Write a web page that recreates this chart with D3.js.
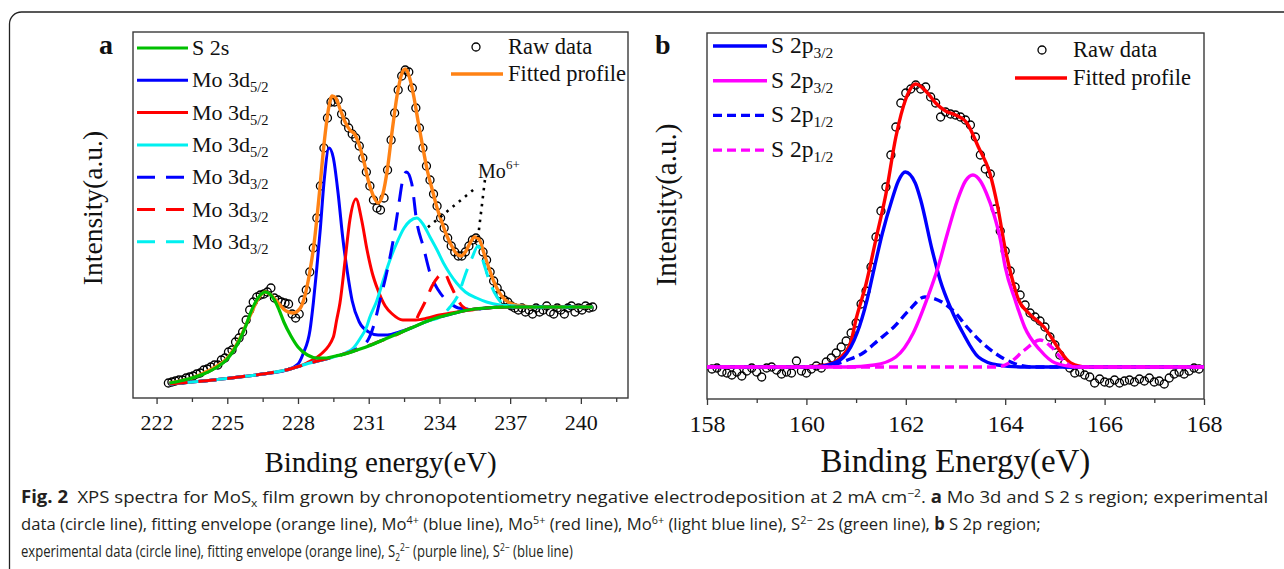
<!DOCTYPE html>
<html>
<head>
<meta charset="utf-8">
<script src="https://cdn.jsdelivr.net/npm/d3@7"></script>
<style>
  body { margin: 0; background: #fff; }
  svg text { font-family: "Liberation Serif", "Times New Roman", serif; fill: #111; }
  .caption text { font-family: "Open Sans", "Noto Sans", sans-serif; fill: #231f20; }
</style>
</head>
<body>
<svg id="fig" width="1284" height="569"></svg>
<script>
// ---------- panel a : Mo 3d + S 2s (energy eV, intensity a.u.) ----------
const rawA = [[222.50,15],[222.65,16],[222.80,17],[222.95,18],[223.10,18],[223.25,20],[223.40,21],[223.55,22],[223.70,24],[223.85,25],[224.00,28],[224.15,29],[224.30,31],[224.45,33],[224.60,33],[224.75,38],[224.90,40],[225.05,46],[225.20,48],[225.35,56],[225.50,60],[225.65,66],[225.80,78],[225.95,88],[226.10,96],[226.25,101],[226.40,103],[226.55,104],[226.70,106],[226.85,110],[227.00,100],[227.15,98],[227.30,96],[227.45,95],[227.60,94],[227.75,84],[227.90,80],[228.05,84],[228.20,98],[228.35,108],[228.50,126],[228.65,150],[228.80,180],[228.95,212],[229.10,250],[229.25,280],[229.40,296],[229.55,296],[229.70,298],[229.85,284],[230.00,276],[230.15,270],[230.30,264],[230.45,260],[230.60,252],[230.75,240],[230.90,226],[231.05,212],[231.20,198],[231.35,190],[231.50,188],[231.65,200],[231.80,228],[231.95,258],[232.10,285],[232.25,308],[232.40,322],[232.55,328],[232.70,326],[232.85,310],[233.00,290],[233.15,270],[233.30,250],[233.45,232],[233.60,218],[233.75,204],[233.90,192],[234.05,180],[234.20,170],[234.35,160],[234.50,152],[234.65,146],[234.80,142],[234.95,142],[235.10,146],[235.25,152],[235.40,158],[235.55,160],[235.70,156],[235.85,146],[236.00,138],[236.15,126],[236.30,117],[236.45,110],[236.60,104],[236.75,98],[236.90,96],[237.05,92],[237.20,90],[237.35,88],[237.50,90],[237.65,86],[237.80,88],[237.95,84],[238.10,90],[238.25,86],[238.40,88],[238.55,92],[238.70,86],[238.85,84],[239.00,90],[239.15,88],[239.30,84],[239.45,90],[239.60,92],[239.75,86],[239.90,90],[240.05,88],[240.20,92],[240.35,90],[240.50,91]];

const fitA = [[222.55,15],[223,17],[223.5,20],[224,25],[224.5,31],[225,40],[225.5,58],[226,84],[226.3,99],[226.6,106],[226.9,102],[227.2,94],[227.5,87],[227.8,85],[228.1,90],[228.3,103],[228.5,126],[228.7,158],[228.9,203],[229.1,253],[229.3,290],[229.45,302],[229.6,300],[229.8,288],[230.0,276],[230.2,268],[230.4,264],[230.6,253],[230.8,236],[231.0,216],[231.2,202],[231.4,195],[231.6,204],[231.8,230],[232.0,268],[232.2,302],[232.4,324],[232.55,329],[232.7,323],[232.9,303],[233.1,276],[233.3,250],[233.5,226],[233.7,208],[233.9,190],[234.1,176],[234.3,163],[234.5,153],[234.7,145],[234.9,142],[235.1,146],[235.3,155],[235.5,161],[235.7,158],[235.9,144],[236.1,130],[236.3,117],[236.5,107],[236.8,98],[237.1,94],[237.5,92],[238,91],[240.5,91]];

const s2sA = [[222.55,15],[223,17],[223.5,20],[224,24],[224.5,30],[225,39],[225.5,57],[225.8,73],[226.0,86],[226.2,96],[226.4,103],[226.6,106],[226.8,104],[227.0,98],[227.2,88],[227.4,76],[227.7,62],[228.0,51],[228.4,43],[228.8,40],[229.2,40],[229.6,42],[230,44],[230.5,48],[231,52],[231.5,57],[232,62],[232.5,67],[233,72],[233.5,77],[234,81],[234.5,84],[235,87],[235.5,89],[236,90],[237,91],[238,91],[240.5,91]];

const mo4A = [[222.55,14],[224,17],[225.5,21],[226.5,24],[227.5,28],[228.0,34],[228.23,45],[228.51,68],[228.65,95],[228.79,128],[228.95,170],[229.1,215],[229.32,250],[229.5,240],[229.7,205],[229.9,160],[230.1,125],[230.3,97],[230.6,76],[231.0,66],[231.4,63],[231.8,63],[232.3,66],[232.8,70],[233.5,77],[234,81],[234.5,84],[235,87],[235.5,89],[236,90],[237,91],[238,91],[240.5,91]];

const mo5A = [[222.55,14],[224,17],[225.5,21],[226.5,24],[227.5,28],[228.37,35],[228.93,43],[229.5,61],[229.64,78],[229.78,95],[230.0,138],[230.2,178],[230.46,199],[230.7,178],[230.93,148],[231.15,125],[231.39,108],[231.7,92],[232.0,84],[232.45,78],[233.0,78],[233.5,80],[234,83],[234.5,85],[235,87],[235.5,89],[236,90],[237,91],[238,91],[240.5,91]];

const mo6A = [[222.55,14],[224,17],[225.5,21],[226.5,24],[227.5,28],[228.5,35],[229.5,41],[230.0,45],[230.35,50],[230.65,60],[230.91,71],[231.05,81],[231.34,97],[231.62,118],[231.9,138],[232.19,155],[232.5,170],[232.75,177],[233.04,180],[233.3,174],[233.6,161],[233.9,148],[234.17,135],[234.45,124],[234.73,115],[235.1,106],[235.58,100],[236.0,96],[236.57,93],[237.2,92],[237.98,91],[240.5,91]];

const mo4bA = [[222.55,14],[224,17],[225.5,21],[226.5,24],[227.5,28],[228.5,35],[229.5,41],[230.3,47],[230.7,52],[230.97,58],[231.22,73],[231.48,98],[231.76,125],[232.04,158],[232.26,191],[232.47,221],[232.6,226],[232.82,215],[233.04,176],[233.32,151],[233.6,125],[233.95,108],[234.2,100],[234.45,95],[234.8,90],[235.2,89],[235.6,89],[236,90],[237,91],[238,91],[240.5,91]];

const mo5bA = [[222.55,14],[224,17],[225.5,21],[226.5,24],[227.5,28],[228.5,35],[229.5,41],[230.5,48],[231.5,57],[232.5,67],[232.9,73],[233.13,84],[233.39,96],[233.69,112],[233.94,121],[234.2,125],[234.45,114],[234.7,102],[234.96,92],[235.3,88],[235.6,89],[236,90],[237,91],[238,91],[240.5,91]];

const mo6bA = [[222.55,14],[224,17],[225.5,21],[226.5,24],[227.5,28],[228.5,35],[229.5,41],[230.5,48],[231.5,57],[232.5,67],[233.5,77],[234.03,81],[234.45,91],[234.75,101],[235.17,128],[235.38,140],[235.64,152],[235.89,134],[236.15,115],[236.44,101],[236.78,93],[237.2,91],[238,91],[240.5,91]];

const ticksA = [222, 225, 228, 231, 234, 237, 240];
const minorA = [223.5, 226.5, 229.5, 232.5, 235.5, 238.5, 241.5];
const legendA = [
  {key: "s2s", label: "S 2s", sub: ""},
  {key: "mo4", label: "Mo 3d", sub: "5/2"},
  {key: "mo5", label: "Mo 3d", sub: "5/2"},
  {key: "mo6", label: "Mo 3d", sub: "5/2"},
  {key: "mo4b", label: "Mo 3d", sub: "3/2"},
  {key: "mo5b", label: "Mo 3d", sub: "3/2"},
  {key: "mo6b", label: "Mo 3d", sub: "3/2"}
];
// Mo6+ pointer: label anchor and two dotted leaders [from, to]
const mo6Label = [235.64, 220];
const mo6Leaders = [[[235.43, 208], [233.47, 170]], [[235.93, 218], [235.64, 161]]];

// ---------- panel b : S 2p ----------
const rawB = [[158.1,30],[158.2,31],[158.3,27],[158.4,26],[158.5,24],[158.6,27],[158.7,23],[158.8,28],[158.9,31],[159.0,27],[159.1,22],[159.2,31],[159.3,32],[159.4,29],[159.5,25],[159.6,27],[159.7,26],[159.8,38],[159.9,28],[160.0,26],[160.1,30],[160.2,33],[160.3,31],[160.4,37],[160.5,41],[160.6,46],[160.7,52],[160.8,58],[160.9,66],[161.0,76],[161.1,95],[161.2,108],[161.3,132],[161.4,162],[161.5,188],[161.6,212],[161.7,244],[161.8,272],[161.9,296],[162.0,306],[162.1,310],[162.2,314],[162.3,310],[162.4,312],[162.5,302],[162.6,296],[162.7,282],[162.8,287],[162.9,285],[163.0,284],[163.1,282],[163.2,279],[163.3,274],[163.4,262],[163.5,244],[163.6,230],[163.7,225],[163.8,190],[163.9,168],[164.0,148],[164.1,128],[164.2,112],[164.3,104],[164.4,94],[164.5,86],[164.6,82],[164.7,78],[164.8,72],[164.9,62],[165.0,54],[165.1,44],[165.2,36],[165.3,31],[165.4,26],[165.5,27],[165.6,24],[165.7,22],[165.8,16],[165.9,20],[166.0,17],[166.1,16],[166.2,19],[166.3,16],[166.4,18],[166.5,19],[166.6,17],[166.7,20],[166.8,18],[166.9,21],[167.0,17],[167.1,18],[167.2,15],[167.3,21],[167.4,25],[167.5,27],[167.6,25],[167.7,28],[167.8,31],[167.9,30]];

const fitB = [[158,32],[160,32],[160.4,34],[160.7,42],[160.9,58],[161.0,80],[161.2,115],[161.4,160],[161.6,205],[161.8,262],[162.0,300],[162.2,315],[162.42,307],[162.6,296],[162.8,288],[163.0,284],[163.23,276],[163.46,252],[163.69,226],[163.85,192],[164.0,150],[164.1,128],[164.27,99],[164.47,86],[164.78,72],[164.95,60],[165.09,49],[165.32,36],[165.63,32],[168,32]];

const s2pBlueB = [[158,32],[160.13,32],[160.44,34],[160.75,42],[161.02,66],[161.22,99],[161.37,132],[161.53,166],[161.72,199],[161.85,218],[161.99,227],[162.19,216],[162.3,199],[162.53,149],[162.69,119],[162.92,89],[163.15,66],[163.46,42],[163.85,34],[164.39,32],[168,32]];

const s2pPinkB = [[158,32],[160.83,32],[161.37,34],[161.8,42],[162.15,66],[162.42,99],[162.65,132],[162.84,166],[163.04,199],[163.2,218],[163.35,224],[163.5,218],[163.62,206],[163.77,185],[163.9,160],[164.0,132],[164.2,99],[164.39,72],[164.7,49],[165.01,36],[165.47,32],[168,32]];

const s2p12BlueB = [[158,32],[160.21,32],[160.52,34],[160.83,39],[161.14,46],[161.45,59],[161.76,72],[162.07,89],[162.38,102],[162.76,96],[163.0,86],[163.23,72],[163.54,56],[163.85,44],[164.16,36],[164.55,32],[168,32]];

const s2p12PinkB = [[158,32],[163.8,32],[164.08,36],[164.39,49],[164.7,59],[164.93,52],[165.16,39],[165.4,32],[168,32]];

const ticksB = [158, 160, 162, 164, 166, 168];
const minorB = [159, 161, 163, 165, 167];
const legendB = [
  {key: "blue", label: "S 2p", sub: "3/2"},
  {key: "pink", label: "S 2p", sub: "3/2"},
  {key: "blue12", label: "S 2p", sub: "1/2"},
  {key: "pink12", label: "S 2p", sub: "1/2"}
];

// ---------- styles ----------
const styleA = {
  fit:  {color: "#ff8214", width: 3.4, dash: null},
  s2s:  {color: "#00c000", width: 3.2, dash: null},
  mo4:  {color: "#0000ff", width: 3, dash: null},
  mo5:  {color: "#ff0000", width: 3, dash: null},
  mo6:  {color: "#00f0f0", width: 3, dash: null},
  mo4b: {color: "#0000ff", width: 3, dash: "18,11"},
  mo5b: {color: "#ff0000", width: 3, dash: "18,11"},
  mo6b: {color: "#00f0f0", width: 3, dash: "18,11"}
};
const styleB = {
  fit:    {color: "#ff0000", width: 3.4, dash: null},
  blue:   {color: "#0000ff", width: 3.4, dash: null},
  pink:   {color: "#ff00ff", width: 3.4, dash: null},
  blue12: {color: "#0000ff", width: 3.4, dash: "9,5"},
  pink12: {color: "#ff00ff", width: 3.4, dash: "9,5"}
};

const svg = d3.select("#fig");

// outer rounded frame of the figure
svg.append("path")
  .attr("d", "M9.5,569 V24 A12,12 0 0 1 21.5,12 H1284")
  .attr("fill", "none").attr("stroke", "#222").attr("stroke-width", 1.3);

const xA = d3.scaleLinear().domain([221, 242]).range([133, 628]);
const yA = d3.scaleLinear().domain([0, 366]).range([398, 32]);
const xB = d3.scaleLinear().domain([158, 168]).range([707, 1204]);
const yB = d3.scaleLinear().domain([0, 366]).range([399, 33]);

function drawFrame(x, y, ticks, minor, opt) {
  const g = svg.append("g");
  const [x0, x1] = x.range(), [y0, y1] = y.range();
  g.append("rect").attr("x", x0).attr("y", y1).attr("width", x1 - x0).attr("height", y0 - y1)
    .attr("fill", "none").attr("stroke", "#3a3a3a").attr("stroke-width", 1.4);

  const major = g.append("g").attr("transform", `translate(0,${y0})`)
    .call(d3.axisBottom(x).tickValues(ticks).tickSize(6).tickSizeOuter(0).tickPadding(10).tickFormat(d3.format("d")));
  major.select(".domain").remove();
  major.selectAll("line").attr("stroke", "#3a3a3a").attr("stroke-width", 1.3);
  major.selectAll("text").attr("font-family", "Liberation Serif, serif").attr("font-size", opt.tickFs).attr("fill", "#111");

  const mn = g.append("g").attr("transform", `translate(0,${y0})`)
    .call(d3.axisBottom(x).tickValues(minor).tickSize(4).tickSizeOuter(0).tickFormat(""));
  mn.select(".domain").remove();
  mn.selectAll("line").attr("stroke", "#3a3a3a").attr("stroke-width", 1.3);

  g.append("text").attr("x", (x0 + x1) / 2).attr("y", 472).attr("text-anchor", "middle")
    .attr("font-size", opt.titleFs).text(opt.title);
  g.append("text").attr("transform", `translate(${x0 - 31},${opt.ytitleY}) rotate(-90)`)
    .attr("text-anchor", "middle").attr("font-size", opt.ytitleFs).text("Intensity(a.u.)");
  g.append("text").attr("x", opt.letterX).attr("y", 54).attr("font-size", 28)
    .attr("font-weight", 700).text(opt.letter);
}

function drawLine(x, y, data, st) {
  const line = d3.line().x(d => x(d[0])).y(d => y(d[1])).curve(d3.curveMonotoneX);
  svg.append("path").datum(data).attr("d", line).attr("fill", "none")
    .attr("stroke", st.color).attr("stroke-width", st.width)
    .attr("stroke-dasharray", st.dash).attr("stroke-linejoin", "round");
}

function drawRaw(x, y, data) {
  svg.append("g").selectAll("circle").data(data).join("circle")
    .attr("cx", d => x(d[0])).attr("cy", d => y(d[1])).attr("r", 4)
    .attr("fill", "none").attr("stroke", "#000").attr("stroke-width", 1.3);
}

function drawLegend(items, styles, lx0, lx1, tx, ys, fs, subFs) {
  const g = svg.append("g");
  items.forEach((it, i) => {
    const st = styles[it.key];
    g.append("line").attr("x1", lx0).attr("x2", lx1).attr("y1", ys[i]).attr("y2", ys[i])
      .attr("stroke", st.color).attr("stroke-width", st.width).attr("stroke-dasharray", st.dash);
    const t = g.append("text").attr("x", tx).attr("y", ys[i] + 7).attr("font-size", fs).text(it.label);
    if (it.sub) t.append("tspan").attr("font-size", subFs).attr("dy", 5).text(it.sub);
  });
}

function rawFitLegend(cx, cy, lx0, lx1, ly, tx, fitStyle) {
  const g = svg.append("g");
  g.append("circle").attr("cx", cx).attr("cy", cy).attr("r", 4)
    .attr("fill", "none").attr("stroke", "#000").attr("stroke-width", 1.3);
  g.append("text").attr("x", tx).attr("y", cy + 7).attr("font-size", 22.5).text("Raw data");
  g.append("line").attr("x1", lx0).attr("x2", lx1).attr("y1", ly).attr("y2", ly)
    .attr("stroke", fitStyle.color).attr("stroke-width", fitStyle.width);
  g.append("text").attr("x", tx).attr("y", ly + 7).attr("font-size", 22.5).text("Fitted profile");
}

// ----- panel a -----
drawFrame(xA, yA, ticksA, minorA, {title: "Binding energy(eV)", titleFs: 29, tickFs: 22,
  ytitleFs: 27.5, ytitleY: 208, letter: "a", letterX: 99});
drawRaw(xA, yA, rawA);
drawLine(xA, yA, fitA, styleA.fit);
drawLine(xA, yA, mo4A, styleA.mo4);
drawLine(xA, yA, mo5A, styleA.mo5);
drawLine(xA, yA, mo6A, styleA.mo6);
drawLine(xA, yA, mo4bA, styleA.mo4b);
drawLine(xA, yA, mo6bA, styleA.mo6b);
drawLine(xA, yA, mo5bA, styleA.mo5b);
drawLine(xA, yA, s2sA, styleA.s2s);

mo6Leaders.forEach(seg => {
  svg.append("line")
    .attr("x1", xA(seg[0][0])).attr("y1", yA(seg[0][1]))
    .attr("x2", xA(seg[1][0])).attr("y2", yA(seg[1][1]))
    .attr("stroke", "#000").attr("stroke-width", 2.6).attr("stroke-dasharray", "2.5,5.5");
});
const mo6t = svg.append("text").attr("x", xA(mo6Label[0])).attr("y", yA(mo6Label[1]))
  .attr("font-size", 20).text("Mo");
mo6t.append("tspan").attr("font-size", 13).attr("dy", -9).text("6+");

drawLegend(legendA, styleA, 137, 188, 192, [48, 80.3, 112.6, 144.9, 177.2, 209.5, 241.8], 22, 14.5);
rawFitLegend(476, 47, 451, 503, 74, 508, styleA.fit);

// ----- panel b -----
drawFrame(xB, yB, ticksB, minorB, {title: "Binding Energy(eV)", titleFs: 33, tickFs: 24,
  ytitleFs: 29, ytitleY: 205, letter: "b", letterX: 655});
drawRaw(xB, yB, rawB);
drawLine(xB, yB, fitB, styleB.fit);
drawLine(xB, yB, s2pBlueB, styleB.blue);
drawLine(xB, yB, s2p12BlueB, styleB.blue12);
drawLine(xB, yB, s2p12PinkB, styleB.pink12);
drawLine(xB, yB, s2pPinkB, styleB.pink);

drawLegend(legendB, styleB, 713, 767, 771, [46, 80.7, 115.4, 150.1], 23.5, 15.5);
rawFitLegend(1042, 50, 1015, 1067, 78, 1073, styleB.fit);

// ----- caption -----
const cap = svg.append("g").attr("class", "caption");
function captionLine(y, width, segs) {
  const t = cap.append("text").attr("x", 0).attr("y", 0).attr("font-size", 17);
  let cur = 0;
  segs.forEach(s => {
    const seg = typeof s === "string" ? {t: s} : s;
    const target = seg.sup ? -6 : seg.sub ? 4 : 0;
    const sp = t.append("tspan").text(seg.t);
    if (target !== cur) sp.attr("dy", target - cur);
    cur = target;
    if (seg.sup || seg.sub) sp.attr("font-size", 11);
    if (seg.b) sp.attr("font-weight", 700);
  });
  // squeeze horizontally to the line width of the printed caption
  const natural = t.node().getComputedTextLength();
  t.attr("transform", `translate(21,${y}) scale(${width / natural},1)`);
}
captionLine(503, 1248, [
  {t: "Fig. 2", b: true}, "\u2002XPS spectra for MoS", {t: "x", sub: true},
  " film grown by chronopotentiometry negative electrodeposition at 2 mA cm", {t: "\u22122", sup: true},
  ". ", {t: "a", b: true}, " Mo 3d and S 2 s region; experimental"
]);
captionLine(530, 1020, [
  "data (circle line), fitting envelope (orange line), Mo", {t: "4+", sup: true},
  " (blue line), Mo", {t: "5+", sup: true}, " (red line), Mo", {t: "6+", sup: true},
  " (light blue line), S", {t: "2\u2212", sup: true}, " 2s (green line), ", {t: "b", b: true}, " S 2p region;"
]);
captionLine(557, 552, [
  "experimental data (circle line), fitting envelope (orange line), S", {t: "2", sub: true},
  {t: "2\u2212", sup: true}, " (purple line), S", {t: "2\u2212", sup: true}, " (blue line)"
]);
</script>
</body>
</html>
